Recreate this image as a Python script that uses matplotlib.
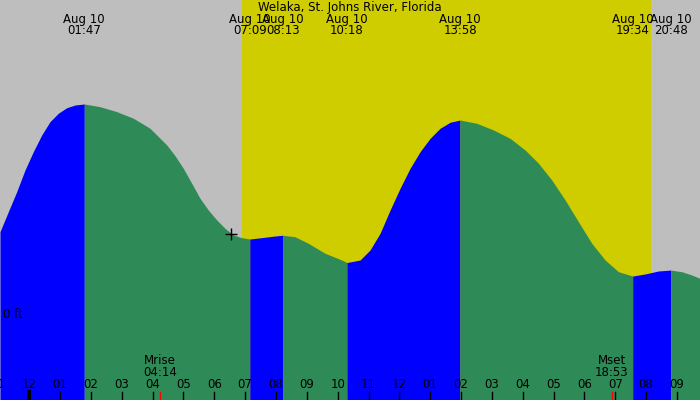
import matplotlib
matplotlib.use("Agg")
import matplotlib.pyplot as plt
import matplotlib.transforms as mtransforms

# tide curve: hours after midnight Aug 10, height in ft
hours = [-0.950, -0.681, -0.409, -0.139, 0.130, 0.402, 0.671, 0.941, 1.213, 1.482,
         1.783, 2.293, 2.835, 3.373, 3.915, 4.457, 4.726, 4.995, 5.268, 5.537,
         5.806, 6.078, 6.348, 6.617, 6.889, 7.150, 7.538, 7.969, 8.217, 8.618,
         9.050, 9.591, 10.133, 10.300, 10.727, 11.051, 11.375, 11.700, 12.024, 12.348,
         12.673, 12.997, 13.321, 13.646, 13.967, 14.512, 15.050, 15.592, 16.079, 16.510,
         16.944, 17.376, 17.807, 18.242, 18.673, 19.105, 19.567, 19.971, 20.402, 20.800,
         21.161, 21.486, 21.750]
heights = [0.549, 0.682, 0.815, 0.960, 1.082, 1.193, 1.282, 1.338, 1.375, 1.393,
           1.400, 1.382, 1.349, 1.305, 1.238, 1.127, 1.055, 0.971, 0.871, 0.771,
           0.693, 0.627, 0.571, 0.527, 0.509, 0.500, 0.509, 0.520, 0.525, 0.515,
           0.471, 0.405, 0.360, 0.343, 0.360, 0.427, 0.538, 0.693, 0.838, 0.971,
           1.082, 1.171, 1.238, 1.278, 1.293, 1.271, 1.227, 1.171, 1.093, 1.005,
           0.893, 0.760, 0.615, 0.471, 0.360, 0.282, 0.253, 0.267, 0.287, 0.293,
           0.282, 0.260, 0.238]

# high / low tide events
event_hours = [1.783, 7.150, 8.217, 10.300, 13.967, 19.567, 20.800]
event_labels = ["01:47", "07:09", "08:13", "10:18", "13:58", "19:34", "20:48"]
event_kind = ["high", "low", "high", "low", "high", "low", "high"]

sunrise, sunset = 6.899, 20.165
moon_events = [(4.233, "Mrise", "04:14"), (18.883, "Mset", "18:53")]
now_mark = (6.54, 0.533)

t_start, t_end = -0.95, 21.75
ft_bottom, ft_top = -0.573, 2.093

fig = plt.figure(figsize=(7, 4), dpi=100)
ax = fig.add_axes([0, 0, 1, 1])
ax.set_xlim(t_start, t_end)
ax.set_ylim(ft_bottom, ft_top)
ax.axis("off")
fig.patch.set_facecolor("#bebebe")
ax.set_facecolor("#bebebe")

ax.axvspan(sunrise, sunset, color="#cfcc00", zorder=0, lw=0)

# fill the tide: blue while rising, green while falling
bounds = [t_start] + event_hours + [t_end]
for i in range(len(bounds) - 1):
    a, b = bounds[i], bounds[i + 1]
    xs = [h for h in hours if a - 1e-6 <= h <= b + 1e-6]
    ys = [heights[hours.index(h)] for h in xs]
    rising = (i < len(event_kind) and event_kind[i] == "high")
    ax.fill_between(xs, ft_bottom, ys, color="#0000ff" if rising else "#2e8b57",
                    lw=0, zorder=1, antialiased=True)

trans = mtransforms.blended_transform_factory(ax.transData, ax.transAxes)
font = dict(family="DejaVu Sans", fontsize=8.5, color="black")

def py(pix):
    return 1 - pix / 400.0

ax.text(0.5, py(8), "Welaka, St. Johns River, Florida", transform=ax.transAxes,
        ha="center", va="center", **font)

for h, lab in zip(event_hours, event_labels):
    ax.text(h, py(19), "Aug 10", transform=trans, ha="center", va="center", **font)
    ax.text(h, py(31), lab, transform=trans, ha="center", va="center", **font)

# hour ticks along the bottom
for hr in range(-1, 22):
    label = "%02d" % ((hr % 12) or 12)
    ax.text(hr, py(385), label, transform=trans, ha="center", va="center", zorder=3, **font)
    ax.axvline(hr, ymin=0, ymax=8 / 400, color="black",
               lw=3 if hr == 0 else 1, zorder=3)

for h, name, tm in moon_events:
    ax.text(h, py(361), name, transform=trans, ha="center", va="center", zorder=3, **font)
    ax.text(h, py(373), tm, transform=trans, ha="center", va="center", zorder=3, **font)
    ax.axvline(h, ymin=0, ymax=8 / 400, color="red", lw=1, zorder=3)

ax.text(3 / 700, 0, "0 ft", transform=mtransforms.blended_transform_factory(ax.transAxes, ax.transData),
        ha="left", va="center", zorder=3, **font)

ax.plot([now_mark[0]], [now_mark[1]], marker="+", color="black", ms=8, mew=1, zorder=4)

fig.savefig("out.png", dpi=100, facecolor=fig.get_facecolor())
